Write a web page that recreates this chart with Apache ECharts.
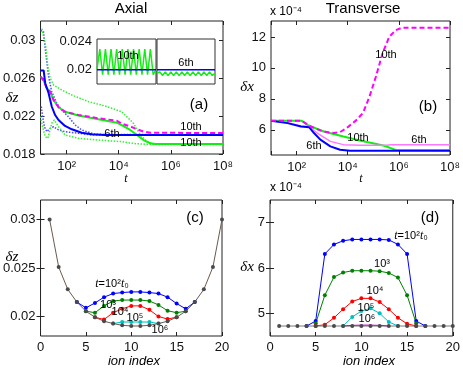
<!DOCTYPE html>
<html>
<head>
<meta charset="utf-8">
<script src="https://cdn.jsdelivr.net/npm/echarts@6/dist/echarts.min.js"></script>
<style>
  html, body { margin: 0; padding: 0; background: #fff; }
  #chart { width: 463px; height: 369px; }
</style>
</head>
<body>
<div id="chart"></div>
<script>
// ---- panel (a): axial, log10(t) and delta z ----
const aBlueT = [1.0, 1.12, 1.18, 1.31, 1.43, 1.56, 1.69, 1.94, 2.2, 2.58, 2.96, 3.47, 8]
const aBlueV = [0.0268, 0.0268, 0.02545, 0.0244, 0.0230, 0.0221, 0.02158, 0.02095, 0.0206, 0.02024, 0.02007, 0.0200, 0.0200]
const aMagT = [1.0, 1.11, 1.24, 1.37, 1.5, 1.69, 1.94, 2.45, 3.22, 3.93, 4.11, 4.44, 4.62, 4.95, 5.21, 8]
const aMagV = [0.02614, 0.02579, 0.02492, 0.02456, 0.02368, 0.02292, 0.02245, 0.02211, 0.02176, 0.0215, 0.0212, 0.0209, 0.0207, 0.02035, 0.02024, 0.0202]
const aGreenT = [1.0, 1.11, 1.24, 1.37, 1.5, 1.69, 1.94, 2.45, 3.22, 3.93, 4.2, 4.44, 4.7, 4.95, 5.21, 5.4, 8]
const aGreenV = [0.02614, 0.02579, 0.02492, 0.02456, 0.02368, 0.02292, 0.02245, 0.02205, 0.02165, 0.0213, 0.0209, 0.02053, 0.0200, 0.01947, 0.01913, 0.01905, 0.01905]
const aGreenDot1T = [1.05, 1.11, 1.2, 1.28, 1.37, 1.5, 1.81, 2.2, 2.84, 3.48, 4.11, 4.44, 4.57, 4.83, 5.08, 5.32, 8]
const aGreenDot1V = [0.0312, 0.0310, 0.0293, 0.0272, 0.0260, 0.02526, 0.02474, 0.02421, 0.02351, 0.02305, 0.02245, 0.02158, 0.0212, 0.0200, 0.0193, 0.01905, 0.01905]
const aBlueDot1T = [1.0, 1.11, 1.2, 1.31, 1.43, 1.62, 1.81, 2.07, 2.33, 2.58, 3.09, 8]
const aBlueDot1V = [0.0310, 0.0309, 0.0286, 0.02614, 0.02456, 0.02334, 0.02263, 0.02193, 0.02105, 0.02053, 0.02007, 0.0200]
const aBlueDot2T = [1.03, 1.08, 1.15, 1.24, 1.37, 1.5, 1.69, 1.94, 2.45, 2.96, 8]
const aBlueDot2V = [0.0230, 0.02193, 0.02087, 0.02035, 0.0207, 0.02087, 0.02053, 0.02035, 0.02018, 0.0200, 0.0200]
const aGreenDot2T = [1.0, 1.08, 1.18, 1.28, 1.43, 1.53, 1.69, 1.94, 2.45, 3.22, 4.11, 4.6, 5.2, 8]
const aGreenDot2V = [0.02193, 0.02087, 0.01982, 0.01965, 0.02123, 0.02158, 0.02087, 0.0200, 0.01965, 0.01947, 0.0193, 0.0191, 0.0190, 0.0190]
const aTicks = [0.018, 0.022, 0.026, 0.03]

// insets of (a): sample index and delta z
const inset10Green = [0.0200, 0.0229, 0.0193, 0.0229, 0.0193, 0.0229, 0.0193, 0.0229, 0.0193, 0.0229, 0.0193,
  0.0229, 0.0193, 0.0229, 0.0193, 0.0229, 0.0193, 0.0229, 0.0193, 0.0229, 0.0193, 0.0200]
const inset6Green = [0.0195, 0.0197, 0.0192, 0.0197, 0.0192, 0.0197, 0.0192, 0.0197, 0.0192, 0.0197, 0.0192,
  0.0197, 0.0192, 0.0197, 0.0192, 0.0197, 0.0192, 0.0197, 0.0192, 0.0197, 0.0192, 0.0195]
const insetBlue = [0.0200, 0.0200]
const insetTicks = [0.02, 0.024]

// ---- panel (b): transverse, log10(t) and delta x (x 1e-4) ----
const bMagDashT = [1, 2.2, 2.55, 2.93, 3.2, 3.45, 3.7, 3.96, 4.35, 4.6, 4.85, 5.1, 5.36, 5.62, 5.87, 6.13, 8]
const bMagDashV = [6.58, 6.58, 6.21, 5.96, 5.85, 5.79, 5.85, 6.11, 6.64, 7.1, 8.14, 9.43, 10.93, 12.0, 12.43, 12.6, 12.6]
const bGreenT = [1, 2.2, 2.42, 3.06, 3.83, 4.47, 5.12, 5.43, 5.87, 8]
const bGreenV = [6.58, 6.58, 6.32, 5.89, 5.57, 5.31, 5.08, 4.97, 4.70, 4.68]
const bBlueT = [1, 1.65, 2.17, 2.49, 2.68, 2.93, 3.32, 3.7, 4.09, 8]
const bBlueV = [6.58, 6.43, 6.21, 6.17, 5.79, 5.36, 4.93, 4.71, 4.65, 4.65]
const bPinkT = [1, 1.65, 2.17, 2.49, 2.81, 3.32, 3.83, 4.5, 5.5, 5.7, 8]
const bPinkV = [6.58, 6.45, 6.25, 6.2, 5.79, 5.25, 5.04, 5.0, 5.0, 5.04, 5.04]
const bTicks = [6, 8, 10, 12]

// ---- panel (c): delta z per ion, ions 1..20 ----
const ionTicks = [0, 5, 10, 15, 20]
const cBase = [0.0300, 0.0251, 0.0228, 0.0215, 0.02055, 0.01993, 0.01952, 0.01928, 0.0191, 0.01903,
  0.01903, 0.0191, 0.01928, 0.01952, 0.01993, 0.02055, 0.0215, 0.0228, 0.0251, 0.0300]
const cBlue = [null, null, null, 0.0215, 0.0209, 0.0214, 0.0220, 0.02237, 0.02247, 0.02254,
  0.02254, 0.02247, 0.02237, 0.0220, 0.02134, 0.0208, 0.0215, null, null, null]
const cGreen = [null, null, null, null, 0.02055, 0.0204, 0.0211, 0.0216, 0.0217, 0.0217,
  0.0217, 0.0216, 0.0212, 0.0206, 0.0204, 0.02055, null, null, null, null]
const cRed = [null, null, null, null, null, 0.01993, 0.0197, 0.0204, 0.0208, 0.0211,
  0.0211, 0.0207, 0.0200, 0.01975, 0.01993, null, null, null, null, null]
const cCyan = [null, null, null, null, null, null, null, 0.01928, 0.01944, 0.01944,
  0.01944, 0.01944, 0.01928, null, null, null, null, null, null, null]
const cTicks = [0.02, 0.025, 0.03]

// ---- panel (d): delta x per ion (x 1e-4) ----
const dBase = [4.72, 4.72, 4.72, 4.72, 4.72, 4.72, 4.72, 4.72, 4.72, 4.72,
  4.72, 4.72, 4.72, 4.72, 4.72, 4.72, 4.72, 4.72, 4.72, 4.72]
const dBlue = [null, null, null, 4.72, 4.83, 6.31, 6.52, 6.60, 6.63, 6.63,
  6.63, 6.63, 6.62, 6.52, 6.31, 4.83, 4.72, null, null, null]
const dGreen = [null, null, null, null, 4.78, 5.40, 5.80, 5.90, 5.94, 5.94,
  5.94, 5.93, 5.89, 5.79, 5.40, 4.78, null, null, null, null]
const dRed = [null, null, null, null, 4.72, 4.75, 4.90, 5.09, 5.26, 5.33,
  5.33, 5.25, 5.09, 4.90, 4.77, 4.72, null, null, null, null]
const dCyan = [null, null, null, null, null, null, null, 4.72, 4.92, 5.05,
  5.11, 5.00, 4.81, 4.72, null, null, null, null, null, null]
const dMag = [null, null, null, null, null, null, null, 4.72, 4.735, 4.74,
  4.74, 4.735, 4.72, null, null, null, null, null, null, null]
const dTicks = [5, 6, 7]

const SANS = 'Liberation Sans, Arial, sans-serif'
const SERIF = 'Liberation Serif, Times New Roman, serif'
const sup = { 2: '\u00b2', 3: '\u00b3', 4: '\u2074', 5: '\u2075', 6: '\u2076', 8: '\u2078' }

const tData = (e, v) => e.map((x, i) => [Math.pow(10, x), v[i]])
const ionData = v => v.map((y, i) => [i + 1, y == null ? '-' : y])
const idxData = v => v.map((y, i) => [i, y])

const tickStyle = { inside: true, length: 4, lineStyle: { color: '#222', width: 1 } }
const labelStyle = { color: '#111', fontSize: 13, fontFamily: SANS }

function powLabel(v) {
  const e = Math.round(Math.log10(v))
  return (e > 0 && e % 2 === 0) ? '10' + sup[e] : ''
}

function logAxis(grid, pos) {
  return {
    type: 'log', logBase: 100, gridIndex: grid, position: pos, min: 10, max: 1e8,
    axisLine: { show: false }, splitLine: { show: false }, axisTick: tickStyle,
    axisLabel: Object.assign({ show: pos === 'bottom', margin: 6, formatter: powLabel }, labelStyle)
  }
}

function valAxis(grid, pos, min, max, ticks, showLabel) {
  return {
    type: 'value', gridIndex: grid, position: pos, min: min, max: max,
    axisLine: { show: false }, splitLine: { show: false },
    axisTick: Object.assign({ customValues: ticks }, tickStyle),
    axisLabel: Object.assign({ show: showLabel, customValues: ticks, margin: 5 }, labelStyle)
  }
}

function line(xi, yi, data, color, width, type, extra) {
  return Object.assign({
    type: 'line', xAxisIndex: xi, yAxisIndex: yi, data: data, showSymbol: false, symbol: 'none',
    lineStyle: { color: color, width: width, type: type || 'solid' }, silent: true
  }, extra || {})
}

function ionLine(xi, data, color, lineColor, extra) {
  return Object.assign({
    type: 'line', xAxisIndex: xi, yAxisIndex: xi, data: data, symbol: 'circle', symbolSize: 4,
    itemStyle: { color: color }, lineStyle: { color: lineColor || color, width: 1 }, silent: true
  }, extra || {})
}

function txt(x, y, s, size, extra) {
  return {
    type: 'text', x: x, y: y, z: 100,
    style: Object.assign({ text: s, fill: '#000', font: size + 'px ' + SANS,
      align: 'center', verticalAlign: 'middle', textAlign: 'center', textVerticalAlign: 'middle' }, extra || {})
  }
}
const ital = (x, y, s, size) => txt(x, y, s, size, { font: 'italic ' + size + 'px ' + SERIF })
const tRich = { i: { fontStyle: 'italic', fontFamily: SERIF, fontSize: 12 } }

const chart = echarts.init(document.getElementById('chart'))
const option = {
  animation: false,
  backgroundColor: '#fff',
  grid: [
    { left: 40, top: 21, width: 183, height: 133, show: true, borderColor: '#222', borderWidth: 1 },
    { left: 271, top: 21, width: 182, height: 134, show: true, borderColor: '#222', borderWidth: 1 },
    { left: 40, top: 200, width: 182, height: 136, show: true, borderColor: '#222', borderWidth: 1 },
    { left: 270, top: 200, width: 183, height: 136, show: true, borderColor: '#222', borderWidth: 1 },
    { left: 97, top: 39, width: 59, height: 45, show: true, borderColor: '#333', borderWidth: 1, backgroundColor: '#fff' },
    { left: 157, top: 39, width: 58, height: 45, show: true, borderColor: '#333', borderWidth: 1, backgroundColor: '#fff' }
  ],
  xAxis: [
    logAxis(0, 'bottom'),
    logAxis(1, 'bottom'),
    valAxis(2, 'bottom', 0, 20, ionTicks, true),
    valAxis(3, 'bottom', 0, 20, ionTicks, true),
    { type: 'value', gridIndex: 4, min: 0, max: 21, show: false },
    { type: 'value', gridIndex: 5, min: 0, max: 21, show: false },
    logAxis(0, 'top'),
    logAxis(1, 'top'),
    valAxis(2, 'top', 0, 20, ionTicks, false),
    valAxis(3, 'top', 0, 20, ionTicks, false)
  ],
  yAxis: [
    valAxis(0, 'left', 0.018, 0.032, aTicks, true),
    valAxis(1, 'left', 4.37, 13.03, bTicks, true),
    valAxis(2, 'left', 0.018, 0.032, cTicks, true),
    valAxis(3, 'left', 4.5, 7.5, dTicks, true),
    Object.assign(valAxis(4, 'left', 0.018, 0.0243, insetTicks, true), { axisTick: { show: false } }),
    { type: 'value', gridIndex: 5, min: 0.018, max: 0.0243, show: false },
    valAxis(0, 'right', 0.018, 0.032, aTicks, false),
    valAxis(1, 'right', 4.37, 13.03, bTicks, false),
    valAxis(2, 'right', 0.018, 0.032, cTicks, false),
    valAxis(3, 'right', 4.5, 7.5, dTicks, false)
  ],
  series: [
    // (a)
    line(0, 0, tData(aBlueDot1T, aBlueDot1V), '#4b4bff', 1.5, 'dotted'),
    line(0, 0, tData(aBlueDot2T, aBlueDot2V), '#4b4bff', 1.5, 'dotted'),
    line(0, 0, tData(aGreenDot1T, aGreenDot1V), '#33ee33', 1.5, 'dotted'),
    line(0, 0, tData(aGreenDot2T, aGreenDot2V), '#33ee33', 1.5, 'dotted'),
    line(0, 0, tData(aGreenT, aGreenV), '#11ee11', 2),
    line(0, 0, tData(aMagT, aMagV), '#ff00ff', 2, [5, 3]),
    line(0, 0, tData(aBlueT, aBlueV), '#0000ff', 2),
    // insets
    line(4, 4, idxData(inset10Green), '#11ee11', 1.5),
    line(4, 4, [[0, insetBlue[0]], [21, insetBlue[1]]], '#0000ff', 1.5),
    line(5, 5, idxData(inset6Green), '#11ee11', 1.5),
    line(5, 5, [[0, insetBlue[0]], [21, insetBlue[1]]], '#0000ff', 1.5),
    // (b)
    line(1, 1, tData(bGreenT, bGreenV), '#11ee11', 2),
    line(1, 1, tData(bPinkT, bPinkV), '#ff77ff', 1.5),
    line(1, 1, tData(bBlueT, bBlueV), '#0000ff', 2),
    line(1, 1, tData(bMagDashT, bMagDashV), '#ff00ff', 2, [5, 3]),
    // (c)
    ionLine(2, ionData(cBlue), '#0000ff'),
    ionLine(2, ionData(cGreen), '#008000'),
    ionLine(2, ionData(cRed), '#ff0000'),
    ionLine(2, ionData(cCyan), '#00bfbf'),
    ionLine(2, ionData(cBase), '#4a4a4a', '#6b5a4e'),
    // (d)
    ionLine(3, ionData(dBlue), '#0000ff'),
    ionLine(3, ionData(dGreen), '#008000'),
    ionLine(3, ionData(dRed), '#ff0000'),
    ionLine(3, ionData(dCyan), '#00bfbf'),
    ionLine(3, ionData(dBase), '#4a4a4a', '#7a7a7a'),
    ionLine(3, ionData(dMag), '#bf00bf', '#bf00bf', { symbolSize: 0 })
  ],
  graphic: [
    txt(131, 9, 'Axial', 15),
    txt(363, 9, 'Transverse', 15),
    txt(270, 12, 'x 10\u207b\u2074', 12, { align: 'left', textAlign: 'left' }),
    txt(270, 188, 'x 10\u207b\u2074', 12, { align: 'left', textAlign: 'left' }),
    ital(12, 98, '\u03b4z', 15),
    ital(247, 87, '\u03b4x', 15),
    ital(12, 257, '\u03b4z', 15),
    ital(247, 267, '\u03b4x', 15),
    ital(126, 179, 't', 12),
    ital(361, 179, 't', 12),
    txt(134, 361, 'ion index', 13, { font: 'italic 13px ' + SANS }),
    txt(369, 361, 'ion index', 13, { font: 'italic 13px ' + SANS }),
    txt(199, 105, '(a)', 15),
    txt(428, 107, '(b)', 15),
    txt(195, 218, '(c)', 15),
    txt(430, 218, '(d)', 15),
    // (a) curve labels
    txt(112, 134, '6th', 11),
    txt(191, 127, '10th', 11),
    txt(191, 143, '10th', 11),
    txt(128, 56, '10th', 11),
    txt(186, 63, '6th', 11),
    // (b) curve labels
    txt(386, 55, '10th', 11),
    txt(358, 138, '10th', 11),
    txt(314, 146, '6th', 11),
    txt(419, 140, '6th', 11),
    // (c) time labels
    txt(112, 284, '{i|t}=10\u00b2{i|t}\u2080', 11, { rich: tRich }),
    txt(108, 305, '10\u00b3', 11),
    txt(120, 312, '10\u2074', 11),
    txt(135, 318, '10\u2075', 11),
    txt(160, 330, '10\u2076', 11),
    // (d) time labels
    txt(411, 236, '{i|t}=10\u00b2{i|t}\u2080', 11, { rich: tRich }),
    txt(382, 264, '10\u00b3', 11),
    txt(375, 291, '10\u2074', 11),
    txt(366, 308, '10\u2075', 11),
    txt(367, 319, '10\u2076', 11)
  ]
}
chart.setOption(option)
window.addEventListener('resize', () => chart.resize())
</script>
</body>
</html>
